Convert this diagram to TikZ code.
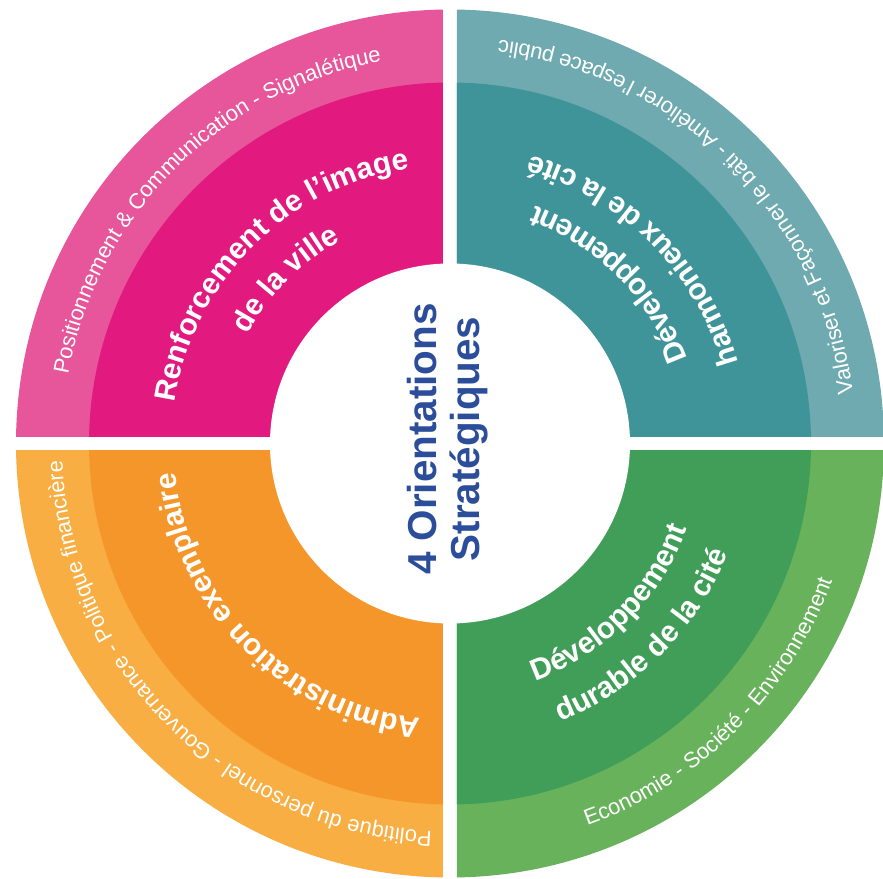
\documentclass[tikz,border=0pt]{standalone}
\usepackage{fontspec}
\setmainfont{Liberation Sans}
\usetikzlibrary{decorations.text}

\newcommand{\bandfont}{\fontsize{12.5}{15}\selectfont}
\newcommand{\axisfont}{\bfseries\fontsize{17}{20}\selectfont}
\newcommand{\hubfont}{\bfseries\fontsize{23}{24.5}\selectfont}

\definecolor{roseLight}{RGB}{231,86,154}
\definecolor{roseDark}{RGB}{226,26,127}
\definecolor{tealLight}{RGB}{110,170,176}
\definecolor{tealDark}{RGB}{63,148,153}
\definecolor{greenLight}{RGB}{104,178,92}
\definecolor{greenDark}{RGB}{64,158,88}
\definecolor{orangeLight}{RGB}{248,174,66}
\definecolor{orangeDark}{RGB}{245,150,42}
\definecolor{hubblue}{RGB}{44,78,154}

\begin{document}
\begin{tikzpicture}
	[line cap=round,
	%Styles
	band text/.style={decorate,decoration={text along path,text align=center,text color=white,text={|\bandfont|#1}}},
	axis text/.style={decorate,decoration={text along path,text align=center,text color=white,text={|\axisfont|#1}}},
	hub/.style={circle,fill=white,minimum size=7.2cm,inner sep=0pt}
	]
	\useasboundingbox (-9.0,-8.71) rectangle (8.66,8.87);
	
	%The quarters
	\foreach \sx/\sy/\clr in {-1/1/rose,1/1/teal,-1/-1/orange,1/-1/green}{
		\begin{scope}
			\clip (\sx*0.14,\sy*0.14) rectangle (\sx*9.5,\sy*9.5);
			\fill[\clr Light] (0,0) circle (8.68);
			\fill[\clr Dark] (0,0) circle (7.22);
		\end{scope}
	}
	\node[hub] (hub) at (0,0) {};
	\node[rotate=90,align=center,text=hubblue,font=\hubfont] (title) at (-0.04,0.09) {4 Orientations\\Stratégiques};
	
	%Outer band
	\path[band text={Positionnement {\&} Communication - Signalétique}] (180:7.76) arc (180:90:7.76);
	\path[band text={Valoriser et Façonner le bâti - Améliorer l’espace public}] (0:8.12) arc (0:90:8.12);
	\path[band text={Politique du personnel - Gouvernance - Politique financière}] (-90:7.76) arc (-90:-180:7.76);
	\path[band text={Economie - Société - Environnement}] (-90:8.12) arc (-90:0:8.12);
	
	%Orientations
	\path[axis text={Renforcement de l’image}] (180:5.56) arc (180:90:5.56);
	\path[axis text={de la ville}] (180:4.60) arc (180:90:4.60);
	\path[axis text={Développement}] (0:5.04) arc (0:90:5.04);
	\path[axis text={harmonieux de la cité}] (0:5.98) arc (0:90:5.98);
	\path[axis text={Administration exemplaire}] (-90:5.52) arc (-90:-180:5.52);
	\path[axis text={Développement}] (-90:5.04) arc (-90:0:5.04);
	\path[axis text={durable de la cité}] (-90:5.98) arc (-90:0:5.98);
\end{tikzpicture}
\end{document}
